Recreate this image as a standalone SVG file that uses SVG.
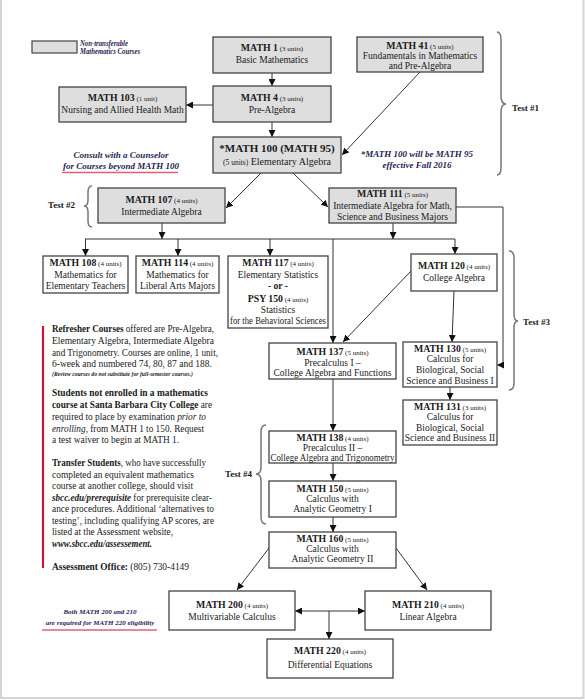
<svg xmlns="http://www.w3.org/2000/svg" width="585" height="700" viewBox="0 0 585 700">
<style>
text{font-family:"Liberation Serif","Times New Roman",serif;fill:#1a1a1a}
.box rect{stroke:#444;stroke-width:1.3}
.g rect{fill:#dedede}
.w rect{fill:#fff}
.t{font-size:9.5px;text-anchor:middle}
.b{font-weight:bold;font-size:9.8px}
.u{font-size:7px}
.p{font-size:9.3px}
.pb{font-weight:bold}
.note{font-style:italic;font-weight:bold;fill:#1f2452;text-anchor:middle}
.test{font-weight:bold;font-size:9px}
.brace{fill:none;stroke:#777;stroke-width:1.5}
.c line,.c polyline{stroke:#333;stroke-width:1;fill:none}
</style>
<defs>
<marker id="ah" viewBox="0 0 8 8" refX="8" refY="4" markerWidth="7" markerHeight="7" markerUnits="userSpaceOnUse" orient="auto-start-reverse">
<path d="M0,0 L8,4 L0,8 z" fill="#111"/>
</marker>
</defs>
<rect x="0" y="0" width="585" height="700" fill="#fff"/>
<rect x="1" y="-5" width="582.5" height="703" fill="none" stroke="#d4d4d4" stroke-width="2"/>

<g id="legend">
<rect x="32" y="41" width="45" height="12" fill="#dedede" stroke="#444" stroke-width="1.2"/>
<text x="80" y="46" style="font-size:7.5px;font-style:italic;font-weight:bold;fill:#1f2452" textLength="48" lengthAdjust="spacingAndGlyphs">Non-transferable</text>
<text x="80" y="54" style="font-size:7.5px;font-style:italic;font-weight:bold;fill:#1f2452" textLength="60" lengthAdjust="spacingAndGlyphs">Mathematics Courses</text>
</g>

<g class="c" id="connectors">
<line x1="272" y1="73" x2="272" y2="86" marker-end="url(#ah)"/>
<line x1="213" y1="105" x2="186" y2="105" marker-end="url(#ah)"/>
<line x1="272" y1="122" x2="272" y2="137" marker-end="url(#ah)"/>
<line x1="420" y1="72" x2="342" y2="155" marker-end="url(#ah)"/>
<line x1="261" y1="173" x2="226" y2="208" marker-end="url(#ah)"/>
<line x1="293" y1="173" x2="328" y2="207" marker-end="url(#ah)"/>
<line x1="162" y1="223" x2="162" y2="239" marker-end="url(#ah)"/>
<line x1="393" y1="223" x2="393" y2="239" marker-end="url(#ah)"/>
<line x1="85" y1="239" x2="455" y2="239"/>
<line x1="85.5" y1="239" x2="85.5" y2="256" marker-end="url(#ah)"/>
<line x1="178" y1="239" x2="178" y2="256" marker-end="url(#ah)"/>
<line x1="270" y1="239" x2="270" y2="256" marker-end="url(#ah)"/>
<line x1="455" y1="239" x2="455" y2="254" marker-end="url(#ah)"/>
<line x1="333" y1="239" x2="333" y2="343" marker-end="url(#ah)"/>
<polyline points="456,207 503,207 503,365 497,365" marker-end="url(#ah)"/>
<line x1="411" y1="271" x2="343" y2="342" marker-end="url(#ah)"/>
<line x1="454" y1="291" x2="452" y2="342" marker-end="url(#ah)"/>
<line x1="450" y1="387" x2="450" y2="400" marker-end="url(#ah)"/>
<line x1="333" y1="379" x2="333" y2="431" marker-end="url(#ah)"/>
<line x1="333" y1="463" x2="333" y2="481" marker-end="url(#ah)"/>
<line x1="333" y1="517" x2="333" y2="532" marker-end="url(#ah)"/>
<line x1="269" y1="548" x2="237" y2="590" marker-end="url(#ah)"/>
<line x1="396" y1="548" x2="427" y2="590" marker-end="url(#ah)"/>
<line x1="295" y1="611" x2="365" y2="611" marker-start="url(#ah)" marker-end="url(#ah)"/>
<line x1="329" y1="611" x2="329" y2="639" marker-end="url(#ah)"/>
</g>

<g id="math1" class="box g"><rect x="213" y="37" width="118" height="36"/>
<text class="t" x="272" y="51"><tspan class="b">MATH 1</tspan><tspan class="u"> (3 units)</tspan></text>
<text class="t" x="272" y="63">Basic Mathematics</text></g>

<g id="math41" class="box g"><rect x="357" y="37" width="126" height="35"/>
<text class="t" x="420" y="49"><tspan class="b">MATH 41</tspan><tspan class="u"> (5 units)</tspan></text>
<text class="t" x="420" y="59">Fundamentals in Mathematics</text>
<text class="t" x="420" y="69">and Pre-Algebra</text></g>

<g id="math4" class="box g"><rect x="213" y="86" width="118" height="36"/>
<text class="t" x="272" y="101"><tspan class="b">MATH 4</tspan><tspan class="u"> (3 units)</tspan></text>
<text class="t" x="272" y="113">Pre-Algebra</text></g>

<g id="math103" class="box g"><rect x="59" y="87" width="127" height="35"/>
<text class="t" x="122.5" y="101"><tspan class="b">MATH 103</tspan><tspan class="u"> (1 unit)</tspan></text>
<text class="t" x="122.5" y="113">Nursing and Allied Health Math</text></g>

<g id="math100" class="box g"><rect x="213" y="137" width="128" height="36"/>
<text class="t" x="277" y="152" style="font-weight:bold;font-size:11px">*MATH 100 (MATH 95)</text>
<text class="t" x="277" y="165"><tspan class="u" style="font-size:7.5px">(5 units)</tspan><tspan style="font-size:10px"> Elementary Algebra</tspan></text></g>

<g id="note100">
<text class="note" x="417" y="157" style="font-size:9px">*MATH 100 will be MATH 95</text>
<text class="note" x="417" y="168" style="font-size:9px">effective Fall 2016</text>
</g>

<g id="counselor">
<text class="note" x="121" y="158" style="font-size:9px">Consult with a Counselor</text>
<text class="note" x="121" y="169" style="font-size:9px">for Courses beyond MATH 100</text>
<line x1="62" y1="172.5" x2="178" y2="172.5" stroke="#e0607a" stroke-width="1.5"/>
</g>

<g id="math107" class="box g"><rect x="98" y="188" width="127" height="35"/>
<text class="t" x="161.5" y="203"><tspan class="b">MATH 107</tspan><tspan class="u"> (4 units)</tspan></text>
<text class="t" x="161.5" y="215">Intermediate Algebra</text></g>

<g id="math111" class="box g"><rect x="329" y="188" width="127" height="35"/>
<text class="t" x="392.5" y="197"><tspan class="b">MATH 111</tspan><tspan class="u"> (5 units)</tspan></text>
<text class="t" x="392.5" y="209">Intermediate Algebra for Math,</text>
<text class="t" x="392.5" y="220">Science and Business Majors</text></g>

<g id="math108" class="box w"><rect x="43" y="256" width="85" height="37"/>
<text class="t" x="85.5" y="266"><tspan class="b">MATH 108</tspan><tspan class="u"> (4 units)</tspan></text>
<text class="t" x="85.5" y="278">Mathematics for</text>
<text class="t" x="85.5" y="289">Elementary Teachers</text></g>

<g id="math114" class="box w"><rect x="136" y="256" width="83" height="37"/>
<text class="t" x="177.5" y="266"><tspan class="b">MATH 114</tspan><tspan class="u"> (4 units)</tspan></text>
<text class="t" x="177.5" y="278">Mathematics for</text>
<text class="t" x="177.5" y="289">Liberal Arts Majors</text></g>

<g id="math117" class="box w"><rect x="228" y="256" width="100" height="72"/>
<text class="t" x="278" y="266"><tspan class="b">MATH 117</tspan><tspan class="u"> (4 units)</tspan></text>
<text class="t" x="278" y="278">Elementary Statistics</text>
<text class="t" x="278" y="289" style="font-weight:bold">- or -</text>
<text class="t" x="278" y="302"><tspan class="b">PSY 150</tspan><tspan class="u"> (4 units)</tspan></text>
<text class="t" x="278" y="313">Statistics</text>
<text class="t" x="278" y="324" textLength="96" lengthAdjust="spacingAndGlyphs">for the Behavioral Sciences</text></g>

<g id="math120" class="box w"><rect x="411" y="254" width="86" height="37"/>
<text class="t" x="454" y="269"><tspan class="b">MATH 120</tspan><tspan class="u"> (4 units)</tspan></text>
<text class="t" x="454" y="281">College Algebra</text></g>

<g id="math130" class="box w"><rect x="403" y="342" width="94" height="45"/>
<text class="t" x="450" y="352"><tspan class="b">MATH 130</tspan><tspan class="u"> (5 units)</tspan></text>
<text class="t" x="450" y="362">Calculus for</text>
<text class="t" x="450" y="373">Biological, Social</text>
<text class="t" x="450" y="384">Science and Business I</text></g>

<g id="math137" class="box w"><rect x="269" y="343" width="127" height="36"/>
<text class="t" x="332.5" y="355"><tspan class="b">MATH 137</tspan><tspan class="u"> (5 units)</tspan></text>
<text class="t" x="332.5" y="366">Precalculus I –</text>
<text class="t" x="332.5" y="376">College Algebra and Functions</text></g>

<g id="math131" class="box w"><rect x="403" y="400" width="94" height="45"/>
<text class="t" x="450" y="410"><tspan class="b">MATH 131</tspan><tspan class="u"> (3 units)</tspan></text>
<text class="t" x="450" y="420">Calculus for</text>
<text class="t" x="450" y="431">Biological, Social</text>
<text class="t" x="450" y="441">Science and Business II</text></g>

<g id="math138" class="box w"><rect x="269" y="431" width="127" height="32"/>
<text class="t" x="332.5" y="441"><tspan class="b">MATH 138</tspan><tspan class="u"> (4 units)</tspan></text>
<text class="t" x="332.5" y="451">Precalculus II –</text>
<text class="t" x="332.5" y="461" textLength="124" lengthAdjust="spacingAndGlyphs">College Algebra and Trigonometry</text></g>

<g id="math150" class="box w"><rect x="269" y="481" width="127" height="36"/>
<text class="t" x="332.5" y="492"><tspan class="b">MATH 150</tspan><tspan class="u"> (5 units)</tspan></text>
<text class="t" x="332.5" y="502">Calculus with</text>
<text class="t" x="332.5" y="512">Analytic Geometry I</text></g>

<g id="math160" class="box w"><rect x="269" y="532" width="127" height="36"/>
<text class="t" x="332.5" y="542"><tspan class="b">MATH 160</tspan><tspan class="u"> (5 units)</tspan></text>
<text class="t" x="332.5" y="552">Calculus with</text>
<text class="t" x="332.5" y="562">Analytic Geometry II</text></g>

<g id="math200" class="box w"><rect x="169" y="591" width="126" height="39"/>
<text class="t" x="232" y="608"><tspan class="b">MATH 200</tspan><tspan class="u"> (4 units)</tspan></text>
<text class="t" x="232" y="620">Multivariable Calculus</text></g>

<g id="math210" class="box w"><rect x="365" y="591" width="126" height="39"/>
<text class="t" x="428" y="608"><tspan class="b">MATH 210</tspan><tspan class="u"> (4 units)</tspan></text>
<text class="t" x="428" y="620">Linear Algebra</text></g>

<g id="math220" class="box w"><rect x="267" y="639" width="126" height="39"/>
<text class="t" x="330" y="654"><tspan class="b">MATH 220</tspan><tspan class="u"> (4 units)</tspan></text>
<text class="t" x="330" y="668">Differential Equations</text></g>

<g id="note220">
<text class="note" x="100" y="614" style="font-size:7px">Both MATH 200 and 210</text>
<text class="note" x="100" y="625" style="font-size:7px">are required for MATH 220 eligibility</text>
<line x1="42" y1="630" x2="157" y2="630" stroke="#e0607a" stroke-width="1.3"/>
</g>

<g id="tests">
<path class="brace" d="M497,32 Q501,32 501,40 L501,96 Q501,104 506,104 Q501,104 501,112 L501,167 Q501,175 497,175"/>
<text class="test" x="512" y="111">Test #1</text>
<path class="brace" d="M92,186 Q88,186 88,192 L88,200 Q88,206 84,206 Q88,206 88,212 L88,221 Q88,227 92,227"/>
<text class="test" x="48" y="208">Test #2</text>
<path class="brace" d="M509,251 Q514,251 514,258 L514,314 Q514,321 518,321 Q514,321 514,328 L514,383 Q514,390 509,390"/>
<text class="test" x="523" y="325">Test #3</text>
<path class="brace" d="M266,425 Q261,425 261,432 L261,467 Q261,474 256,474 Q261,474 261,481 L261,517 Q261,524 266,524"/>
<text class="test" x="225" y="477">Test #4</text>
</g>

<g id="info">
<line x1="43" y1="326" x2="43" y2="568" stroke="#c8153a" stroke-width="2.2"/>
<text class="p" x="52" y="332" textLength="162" lengthAdjust="spacingAndGlyphs"><tspan class="pb">Refresher Courses</tspan> offered are Pre-Algebra,</text>
<text class="p" x="52" y="344" textLength="162" lengthAdjust="spacingAndGlyphs">Elementary Algebra, Intermediate Algebra</text>
<text class="p" x="52" y="356" textLength="166" lengthAdjust="spacingAndGlyphs">and Trigonometry. Courses are online, 1 unit,</text>
<text class="p" x="52" y="367" textLength="160" lengthAdjust="spacingAndGlyphs">6-week and numbered 74, 80, 87 and 188.</text>
<text x="52" y="375.5" style="font-size:5.5px;font-style:italic;font-weight:bold" textLength="141" lengthAdjust="spacingAndGlyphs">(Review courses do not substitute for full-semester courses.)</text>
<text class="p pb" x="52" y="396" textLength="156" lengthAdjust="spacingAndGlyphs">Students not enrolled in a mathematics</text>
<text class="p" x="52" y="407.5" textLength="160" lengthAdjust="spacingAndGlyphs"><tspan class="pb">course at Santa Barbara City College</tspan> are</text>
<text class="p" x="52" y="420" textLength="154" lengthAdjust="spacingAndGlyphs">required to place by examination <tspan font-style="italic">prior to</tspan></text>
<text class="p" x="52" y="431.5" textLength="152" lengthAdjust="spacingAndGlyphs"><tspan font-style="italic">enrolling</tspan>, from MATH 1 to 150. Request</text>
<text class="p" x="52" y="443" textLength="127" lengthAdjust="spacingAndGlyphs">a test waiver to begin at MATH 1.</text>
<text class="p" x="52" y="466" textLength="154" lengthAdjust="spacingAndGlyphs"><tspan class="pb">Transfer Students</tspan>, who have successfully</text>
<text class="p" x="52" y="477.5" textLength="142" lengthAdjust="spacingAndGlyphs">completed an equivalent mathematics</text>
<text class="p" x="52" y="489" textLength="141" lengthAdjust="spacingAndGlyphs">course at another college, should visit</text>
<text class="p" x="52" y="500.5" textLength="160" lengthAdjust="spacingAndGlyphs"><tspan font-style="italic" font-weight="bold">sbcc.edu/prerequisite</tspan> for prerequisite clear-</text>
<text class="p" x="52" y="512" textLength="162" lengthAdjust="spacingAndGlyphs">ance procedures. Additional ‘alternatives to</text>
<text class="p" x="52" y="523.5" textLength="162" lengthAdjust="spacingAndGlyphs">testing’, including qualifying AP scores, are</text>
<text class="p" x="52" y="535" textLength="121" lengthAdjust="spacingAndGlyphs">listed at the Assessment website,</text>
<text class="p" x="52" y="547" style="font-style:italic;font-weight:bold" textLength="100" lengthAdjust="spacingAndGlyphs">www.sbcc.edu/assessement.</text>
<text class="p" x="52" y="570" textLength="137" lengthAdjust="spacingAndGlyphs"><tspan class="pb">Assessment Office:</tspan> (805) 730-4149</text>
</g>
</svg>
